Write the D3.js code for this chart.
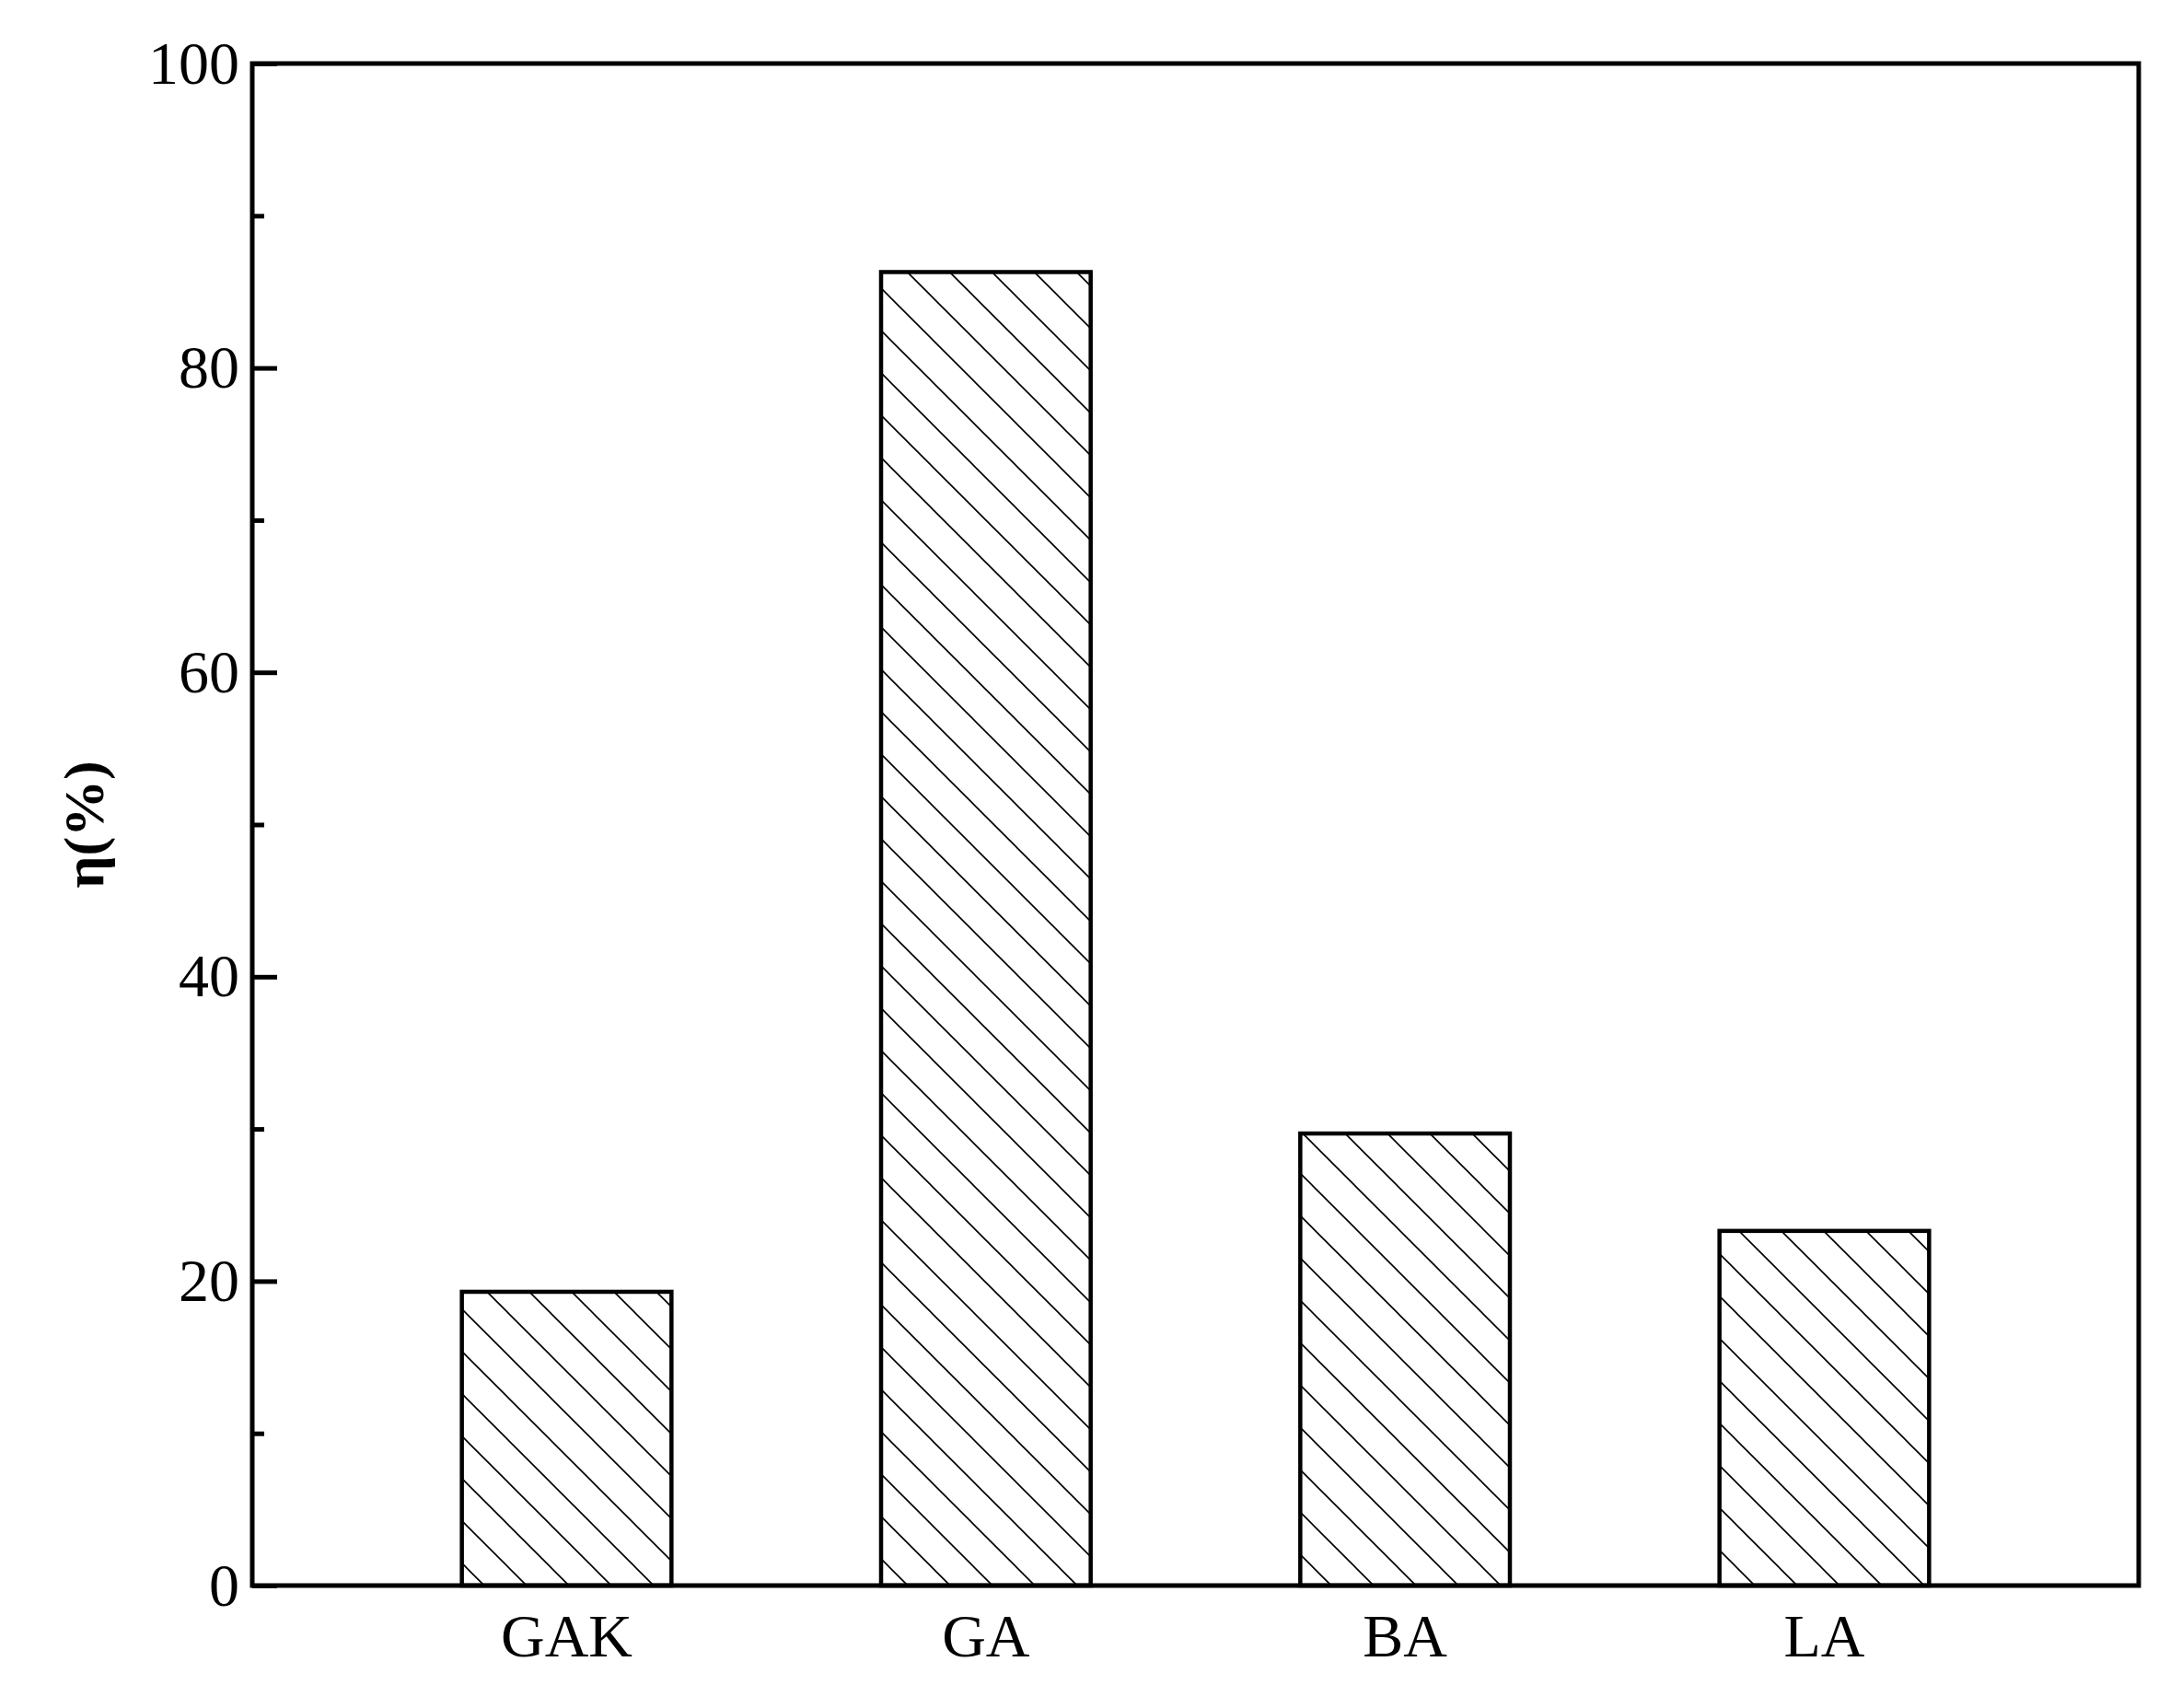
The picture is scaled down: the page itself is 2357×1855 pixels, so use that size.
<!DOCTYPE html>
<html>
<head>
<script src="https://d3js.org/d3.v7.min.js"></script>
<style>
body { margin:0; background:#fff; }
text { font-family: "Liberation Serif", "Times New Roman", serif; }
</style>
</head>
<body>
<svg></svg>
<script>
// data
var categories = ["GAK", "GA", "BA", "LA"];
var values = [19.3, 86.3, 29.7, 23.3];
var yTicks = [0, 20, 40, 60, 80, 100];
var yMinor = [10, 30, 50, 70, 90];

var W = 2357, H = 1855;
var mLeft = 274, mRight = 2323, mTop = 69, mBottom = 1722;

var svg = d3.select("svg").attr("width", W).attr("height", H);

// diagonal hatch
var pat = svg.append("defs").append("pattern")
    .attr("id", "hatch")
    .attr("patternUnits", "userSpaceOnUse")
    .attr("width", 46).attr("height", 46);
pat.append("rect").attr("width", 46).attr("height", 46).attr("fill", "#fff");
pat.append("path").attr("d", "M-2,-2 L48,48 M-48,-2 L2,48 M44,-2 L94,48")
    .attr("stroke", "#000").attr("stroke-width", 1.6);

var x = d3.scaleBand().domain(categories).range([mLeft, mRight]).padding(0.5);
var y = d3.scaleLinear().domain([0, 100]).range([mBottom, mTop]);

// bars
svg.selectAll(".bar")
    .data(values)
  .enter().append("rect")
    .attr("class", "bar")
    .attr("x", function(d, i) { return x(categories[i]); })
    .attr("y", function(d) { return y(d); })
    .attr("width", x.bandwidth())
    .attr("height", function(d) { return y(0) - y(d); })
    .attr("fill", "url(#hatch)")
    .attr("stroke", "#000").attr("stroke-width", 4.5);

// frame
svg.append("rect")
    .attr("x", mLeft).attr("y", mTop)
    .attr("width", mRight - mLeft).attr("height", mBottom - mTop)
    .attr("fill", "none").attr("stroke", "#000").attr("stroke-width", 5);

// y axis, ticks pointing inward
var yAxis = svg.append("g")
    .attr("transform", "translate(" + mLeft + ",0)")
    .call(d3.axisRight(y).tickValues(yTicks).tickSize(27).tickFormat(d3.format("d")));
yAxis.select(".domain").remove();
yAxis.selectAll("line").attr("stroke-width", 5);
yAxis.selectAll("text")
    .attr("x", -14).attr("text-anchor", "end")
    .attr("font-size", 66).attr("fill", "#000");

var yAxisMinor = svg.append("g")
    .attr("transform", "translate(" + mLeft + ",0)")
    .call(d3.axisRight(y).tickValues(yMinor).tickSize(13).tickFormat(""));
yAxisMinor.select(".domain").remove();
yAxisMinor.selectAll("line").attr("stroke-width", 5);

// x axis labels
var xAxis = svg.append("g")
    .attr("transform", "translate(0," + mBottom + ")")
    .call(d3.axisBottom(x).tickSize(0).tickPadding(30));
xAxis.select(".domain").remove();
xAxis.selectAll("text")
    .attr("font-size", 66).attr("fill", "#000")
    .attr("dy", "0.71em");

// y label
svg.append("text")
    .attr("transform", "translate(112," + ((mTop + mBottom) / 2) + ") rotate(-90)")
    .attr("text-anchor", "middle")
    .attr("font-size", 62)
    .attr("font-weight", "bold")
    .text("η(%)");
</script>
</body>
</html>
